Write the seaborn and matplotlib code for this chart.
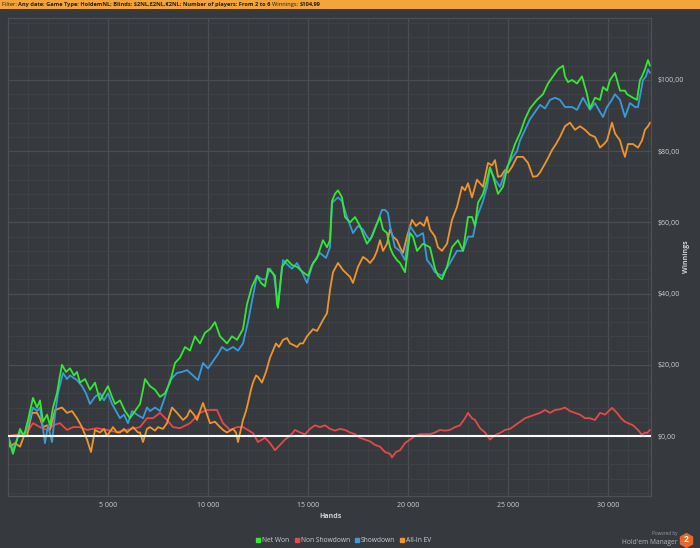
import matplotlib
matplotlib.use('Agg')
import pandas as pd
import matplotlib.pyplot as plt
from matplotlib.ticker import FixedLocator, MultipleLocator, FuncFormatter
from matplotlib.lines import Line2D
from matplotlib.patches import Rectangle
import seaborn as sns

# values (hands played, winnings in $)
net_won_hands = [
    0, 150, 250, 450, 600, 800, 1000, 1250, 1450, 1600,
    1750, 1950, 2100, 2250, 2450, 2600, 2700, 2900, 3100, 3300,
    3450, 3600, 3850, 4100, 4350, 4600, 4800, 5000, 5200, 5350,
    5600, 5850, 6100, 6350, 6600, 6750, 6850, 7100, 7350, 7600,
    7850, 8100, 8350, 8600, 8850, 9100, 9350, 9600, 9850, 10100,
    10350, 10600, 10950, 11200, 11450, 11750, 11950, 12200, 12450, 12650,
    12850, 13000, 13200, 13350, 13450, 13500, 13700, 13950, 14200, 14450,
    14750, 15000, 15200, 15450, 15750, 15950, 16100, 16200, 16350, 16500,
    16700, 16850, 17100, 17350, 17600, 17800, 17950, 18200, 18400, 18600,
    18750, 18950, 19100, 19250, 19450, 19600, 19850, 20100, 20250, 20450,
    20750, 21100, 21350, 21500, 21700, 21950, 22200, 22500, 22750, 23000,
    23200, 23350, 23500, 23750, 23950, 24100, 24250, 24500, 24750, 24950,
    25200, 25350, 25600, 25850, 26100, 26450, 26750, 27000, 27250, 27500,
    27750, 27850, 28000, 28200, 28450, 28700, 28950, 29100, 29350, 29600,
    29750, 29950, 30100, 30350, 30600, 30850, 30950, 31250, 31450, 31600,
    31700, 31850, 32000, 32100]
net_won = [
    0, -3, -5, -1, 2, 0, 4.5, 10.7, 8, 10,
    4, 6, 3, 8, 12, 17, 20, 18, 19, 17,
    18, 15, 16, 13, 15, 10, 12, 14, 11, 9,
    10, 7, 5, 7, 9, 13, 16, 14, 13, 11,
    12, 15, 20.5, 22, 25, 24, 28, 26, 29, 30,
    32, 28, 26, 28, 27, 30, 37, 42, 45, 43,
    42, 47, 46, 45, 37, 36, 47.5, 49.5, 48, 47.5,
    46, 45, 48, 50, 55, 53, 55, 66, 68, 69,
    67, 61.5, 60, 61.5, 59, 56, 54, 56, 59, 61.5,
    58, 57, 53, 51, 49.4, 48.6, 46, 57, 56, 52,
    54, 53, 47, 45, 44, 47.5, 53, 55, 52, 61.5,
    61.5, 59, 65.5, 68, 72, 75.5, 73, 68, 70, 75,
    79.5, 82, 85, 89, 92, 94.4, 96, 99, 101, 103,
    104, 101, 99.4, 100, 99, 101, 96, 92, 95, 94.4,
    98, 97, 100, 102, 97, 97, 96, 95, 94.4, 100,
    101, 103, 105.6, 104]

showdown_hands = [
    0, 250, 450, 600, 800, 1000, 1250, 1450, 1600, 1850,
    2000, 2200, 2350, 2500, 2750, 2950, 3100, 3450, 3700, 3900,
    4100, 4350, 4600, 4800, 5000, 5200, 5400, 5600, 5800, 6000,
    6200, 6450, 6750, 6950, 7100, 7350, 7600, 7850, 8100, 8450,
    8700, 8950, 9250, 9500, 9750, 10000, 10250, 10500, 10700, 10950,
    11250, 11500, 11750, 12000, 12200, 12450, 12700, 12900, 13100, 13300,
    13500, 13750, 14000, 14200, 14450, 14700, 14950, 15250, 15600, 15900,
    16100, 16200, 16500, 16700, 16950, 17250, 17500, 17750, 17950, 18100,
    18400, 18700, 18850, 19000, 19100, 19350, 19600, 19850, 20100, 20450,
    20750, 20950, 21150, 21350, 21700, 22100, 22450, 22750, 23000, 23250,
    23450, 23750, 23950, 24100, 24350, 24600, 24950, 25200, 25450, 25600,
    25850, 26100, 26350, 26600, 26850, 27100, 27350, 27600, 27850, 28200,
    28450, 28750, 29100, 29350, 29600, 29750, 29950, 30150, 30350, 30600,
    30850, 31100, 31350, 31500, 31750, 31900, 32000, 32100]
showdown = [
    0, -4, -1, 1.5, 0, 3, 8, 7, 8, -2,
    3, -1.7, 6, 12, 17.7, 16, 17, 15.7, 14, 12,
    9, 11, 12, 10, 12, 9, 7, 5, 6, 3.6,
    7, 6, 5, 8, 7, 8, 7, 11, 15.7, 17.7,
    18, 18.5, 17, 15.7, 20.5, 19, 21, 23, 25, 24,
    25, 24, 26, 32, 38, 45, 44, 44, 47, 45,
    37, 49.4, 48, 47, 48.6, 46, 43, 48.6, 51.4, 50,
    53, 65.5, 67, 66, 61.5, 57, 59, 58, 56, 55,
    59, 63.5, 63.5, 62.6, 59, 53, 52, 49.4, 59, 56,
    57, 49.4, 48, 46, 45, 48.6, 52, 52, 56, 56,
    61.5, 66, 70, 75, 72, 70, 75.5, 78, 80, 83,
    86, 89, 91, 93, 92, 94.4, 95, 94.4, 92.4, 92.4,
    91.6, 95, 91.6, 93.5, 91, 89.6, 92.4, 94, 96, 94.4,
    89.6, 93.5, 92.4, 92.4, 100, 101, 103, 102]

allin_ev_hands = [
    0, 100, 350, 600, 800, 950, 1100, 1200, 1450, 1600,
    1750, 1950, 2100, 2350, 2700, 2950, 3200, 3450, 3700, 3950,
    4150, 4350, 4600, 4800, 4950, 5250, 5450, 5600, 5800, 5950,
    6250, 6500, 6600, 6750, 6950, 7100, 7350, 7500, 7750, 7950,
    8200, 8450, 8750, 8950, 9100, 9300, 9450, 9600, 9750, 9950,
    10100, 10350, 10600, 10800, 10950, 11250, 11400, 11500, 11650, 11750,
    11900, 12000, 12150, 12250, 12400, 12500, 12700, 12900, 13100, 13250,
    13400, 13550, 13750, 13950, 14100, 14300, 14450, 14600, 14750, 14950,
    15100, 15250, 15450, 15600, 15750, 15950, 16100, 16250, 16500, 16750,
    16950, 17100, 17250, 17500, 17750, 17950, 18100, 18300, 18450, 18600,
    18750, 18950, 19100, 19250, 19450, 19600, 19750, 19950, 20200, 20400,
    20600, 20800, 20950, 21100, 21350, 21500, 21700, 21950, 22200, 22450,
    22700, 22850, 23000, 23200, 23450, 23600, 23750, 23900, 24000, 24200,
    24350, 24500, 24650, 24850, 25000, 25200, 25450, 25750, 26000, 26250,
    26450, 26600, 26800, 26950, 27200, 27400, 27600, 27850, 28100, 28350,
    28600, 28850, 29100, 29350, 29600, 29800, 29950, 30200, 30350, 30600,
    30750, 30850, 31000, 31250, 31500, 31700, 31850, 32000, 32100]
allin_ev = [
    0, -3, -2, -3, 0, 0, 4, 6.5, 6.5, 5,
    2.5, 3, 1.7, 7.3, 8, 6.5, 7, 5, 2.5, -1,
    -4.5, 1.7, 1, 2, 0, 2.5, 1, 1, 2, 1,
    2.5, 1, 1, -1.7, 2, 2.5, 1.5, 2.5, 2, 3.6,
    8, 6.5, 4.5, 5.5, 7.3, 6, 4.5, 7, 9.3, 6,
    3.6, 4, 2.5, 1.5, 1, 2, 1, -1.7, 2, 4.5,
    7, 9.3, 13, 15, 17, 16.6, 15, 18, 22, 24,
    26, 25, 27, 27.5, 26, 25.5, 25, 26, 26, 28,
    29, 30, 29.5, 31, 32.6, 34.5, 41, 46, 48.6, 46.6,
    45.5, 44.7, 43, 47.5, 50.3, 49.5, 48.6, 50, 52, 55,
    52, 54, 58, 56, 55, 53, 51.4, 56, 60.7, 59,
    60, 59, 61.5, 58, 56, 53, 52, 54, 60.7, 64.3,
    70, 69, 71, 67, 72, 71, 70, 74, 76.7, 76,
    77.5, 72.8, 73, 74.7, 74, 75.6, 78.4, 78.4, 76.7, 72.8,
    73, 74, 76, 77.5, 80.3, 82, 84, 87, 88, 86,
    87, 86, 84.6, 84, 81, 82, 83, 88, 85, 83,
    80, 78.4, 82, 82, 81, 83, 86, 87, 88]

non_showdown_hands = [
    0, 600, 950, 1250, 1600, 1950, 2250, 2600, 2950, 3250,
    3600, 3950, 4450, 4950, 5450, 5950, 6600, 6950, 7250, 7600,
    7950, 8250, 8600, 9100, 9600, 9950, 10450, 10750, 11100, 11450,
    11750, 12250, 12500, 12850, 13100, 13350, 13600, 13850, 14100, 14350,
    14600, 14850, 15100, 15350, 15600, 15850, 16100, 16350, 16600, 16850,
    17100, 17350, 17600, 17850, 18100, 18350, 18600, 18850, 19100, 19200,
    19400, 19600, 19850, 20100, 20350, 20600, 20850, 21100, 21350, 21600,
    21850, 22100, 22350, 22600, 22850, 23000, 23200, 23350, 23600, 23850,
    24100, 24300, 24450, 24650, 24850, 25100, 25350, 25600, 25850, 26100,
    26350, 26600, 26850, 27100, 27350, 27600, 27850, 28100, 28350, 28600,
    28850, 29100, 29350, 29600, 29850, 30200, 30450, 30650, 30850, 31050,
    31250, 31500, 31700, 31850, 31950, 32100]
non_showdown = [
    0, 0.5, 1, 3.6, 2.5, 1.7, 3, 3.6, 1.7, 2.5,
    2.5, 1.7, 2.2, 1.7, 1.1, 1.7, 2.5, 5, 5, 6.5,
    4.5, 2.5, 2.2, 3.6, 6.5, 7.3, 7.3, 3.6, 1.7, 2.5,
    2.5, 0.8, -1.7, -0.5, -2, -4, -2.5, -1, 0, 1.7,
    1, 0.5, 2, 3, 2.5, 3, 2, 1.5, 2, 1.7,
    1, 0.5, -0.5, -1, -1.5, -2.5, -3, -4.5, -5, -6,
    -4.5, -4, -2, -1, 0, 0.5, 0.5, 0.5, 1, 1.7,
    1.5, 1.7, 2.5, 3, 5, 6.5, 5, 4.5, 2.2, 1,
    -1, 0, 0.5, 1, 1.7, 2, 3, 4, 5, 5.5,
    6, 6.5, 7.3, 6.5, 7.3, 7.5, 8, 7, 6.5, 6,
    5, 5, 4.5, 6.5, 6, 7.9, 6.5, 5, 4, 3.5,
    3, 1.7, 0.3, 1, 0.8, 1.7]

legend_order = ['Net Won', 'Non Showdown', 'Showdown', 'All-In EV']
draw_order = ['Non Showdown', 'All-In EV', 'Showdown', 'Net Won']
palette = {'Net Won': '#35e835', 'Non Showdown': '#e8484a',
           'Showdown': '#3a9bdc', 'All-In EV': '#f0952e'}

x_ticks = [5000, 10000, 15000, 20000, 25000, 30000]
y_ticks = [0, 20, 40, 60, 80, 100]

BG = '#36393d'
TXT = '#cfd1d3'

frames = []
for name, hands, vals in [('Net Won', net_won_hands, net_won),
                          ('Non Showdown', non_showdown_hands, non_showdown),
                          ('Showdown', showdown_hands, showdown),
                          ('All-In EV', allin_ev_hands, allin_ev)]:
    frames.append(pd.DataFrame({'hands': hands, 'winnings': vals, 'series': name}))
df = pd.concat(frames, ignore_index=True)

sns.set_style('dark', rc={'axes.facecolor': BG, 'figure.facecolor': BG,
                          'axes.edgecolor': '#4d5156', 'axes.grid': True,
                          'text.color': TXT, 'xtick.color': TXT, 'ytick.color': TXT})
plt.rcParams['font.family'] = ['Open Sans', 'DejaVu Sans']

fig = plt.figure(figsize=(7, 5.48), dpi=100)
ax = fig.add_axes([8 / 700, 52 / 548, 643 / 700, 478 / 548])

sns.lineplot(data=df, x='hands', y='winnings', hue='series', hue_order=draw_order,
             palette=palette, estimator=None, sort=False, lw=1.3, legend=False, ax=ax)
ax.axhline(0, color='white', lw=1.5, zorder=5)

ax.set_xlim(0, 32150)
ax.set_ylim(-16.85, 117.4)
ax.xaxis.set_major_locator(FixedLocator(x_ticks))
ax.xaxis.set_minor_locator(MultipleLocator(1000))
ax.yaxis.set_major_locator(FixedLocator(y_ticks))
ax.yaxis.set_minor_locator(MultipleLocator(4))
ax.xaxis.set_major_formatter(FuncFormatter(lambda v, p: f'{int(v):,}'.replace(',', ' ')))
ax.yaxis.set_major_formatter(FuncFormatter(lambda v, p: f'${v:.2f}'.replace('.', ',')))
ax.grid(which='major', color='#4b4f54', lw=0.9)
ax.grid(which='minor', color='#404449', lw=0.6)
ax.set_axisbelow(True)
ax.tick_params(which='both', length=0, labelsize=5)
ax.tick_params(axis='x', pad=4)
ax.tick_params(axis='y', labelright=True, labelleft=False, pad=4.5)
ax.set_xlabel('')
ax.set_ylabel('')
for s in ax.spines.values():
    s.set_color('#4d5156')
    s.set_linewidth(0.9)

fig.text(330 / 700, 1 - 517 / 548, 'Hands', ha='center', va='center',
         fontsize=5, fontweight='bold', color=TXT)
fig.text(687 / 700, 1 - 257 / 548, 'Winnings', ha='center', va='center',
         rotation=90, fontsize=5, fontweight='bold', color=TXT)

# header filter bar
fig.add_artist(Rectangle((0, 1 - 9 / 548), 1, 9 / 548, transform=fig.transFigure,
                         facecolor='#f4a53a', edgecolor='none'))
renderer = fig.canvas.get_renderer()
x0 = 2 / 700
for txt, weight in [('Filter: ', 'normal'),
                    ('Any date: Game Type: HoldemNL; Blinds: $2NL,£2NL,€2NL; Number of players: From 2 to 6 ', 'bold'),
                    ('Winnings: ', 'normal'), ('$104,99', 'bold')]:
    t = fig.text(x0, 1 - 4.8 / 548, txt, ha='left', va='center', fontsize=4.05,
                 fontweight=weight, color='#1c1c1c')
    x0 += t.get_window_extent(renderer).width / fig.bbox.width

handles = [Line2D([], [], marker='s', ls='', ms=2.4, color=palette[n]) for n in legend_order]
leg = fig.legend(handles, legend_order, loc='center', bbox_to_anchor=(344 / 700, 1 - 541 / 548),
                 ncol=4, frameon=False, fontsize=4.8, handlelength=0.5, handletextpad=0.35,
                 columnspacing=0.8, labelcolor=TXT)

fig.text(677 / 700, 1 - 534 / 548, 'Powered by', ha='right', va='center', fontsize=3.3, color='#9a9da0')
fig.text(678 / 700, 1 - 542 / 548, "Hold'em Manager", ha='right', va='center', fontsize=4.8, color='#b5b8bb')
fig.add_artist(Line2D([686 / 700], [1 - 540 / 548], marker='h', ms=10, color='#e4692b',
                      transform=fig.transFigure))
fig.text(686 / 700, 1 - 540 / 548, '2', ha='center', va='center', fontsize=6,
         fontweight='bold', color='white')

fig.savefig('out.png', dpi=100, facecolor=BG)
